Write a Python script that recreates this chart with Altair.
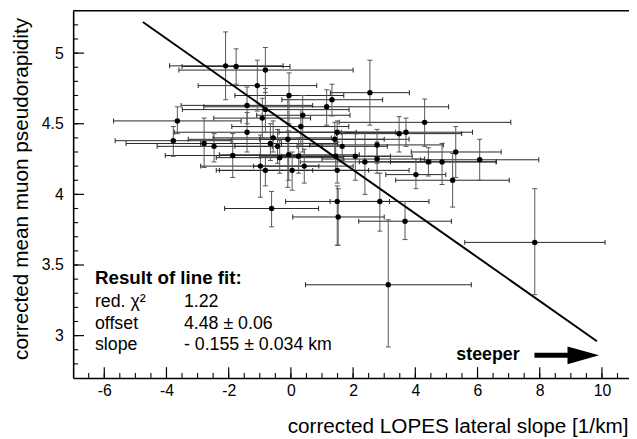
import altair as alt
import pandas as pd

# ---------------- data ----------------
pt_x = [-2.10, -1.76, -0.82, -1.08, -0.06, 1.32, 1.15, -1.41, -0.82, -0.92,
        0.38, -3.65, 0.32, -1.41, -3.78, -2.79, -2.47, -0.57, -0.10, -0.66,
        -0.43, 1.49, 1.41, 1.65, -1.87, -0.36, -0.07, 0.25, -0.98, -0.82,
        0.04, 0.43, 1.49, 1.44, 2.07, 2.54, 4.30, 3.48, 3.70, 2.77,
        2.38, 2.77, 4.42, 4.86, 5.30, 6.07, 5.20, 4.02, -0.62, 1.49,
        2.86, 1.52, 3.67, 3.13, 7.84]
pt_y = [4.91, 4.905, 4.88, 4.77, 4.70, 4.67, 4.62, 4.63, 4.60, 4.54,
        4.56, 4.52, 4.48, 4.44, 4.38, 4.36, 4.34, 4.40, 4.39, 4.36,
        4.34, 4.44, 4.39, 4.34, 4.275, 4.26, 4.28, 4.27, 4.20, 4.17,
        4.17, 4.20, 4.17, 4.27, 4.27, 4.72, 4.51, 4.43, 4.44, 4.35,
        4.23, 4.25, 4.23, 4.23, 4.30, 4.245, 4.10, 4.14, 3.90, 3.95,
        3.95, 3.84, 3.81, 3.36, 3.66]
pt_xlo = [-3.90, -3.50, -3.60, -2.98, -1.80, -0.29, -2.80, -3.53, -3.49, -2.48,
          -1.10, -5.70, -1.90, -3.75, -5.65, -5.30, -4.30, -2.50, -3.30, -2.90,
          -1.80, -0.38, -1.00, 0.20, -4.04, -2.40, -2.30, -1.00, -2.90, -2.30,
          -2.40, -1.20, -0.80, -0.30, 0.20, 1.27, 1.55, 1.47, 1.62, 0.60,
          0.30, 1.00, 2.20, 3.20, 3.87, 4.16, 3.37, 3.05, -2.13, -0.17,
          1.26, 0.06, 2.18, 0.47, 5.59]
pt_xhi = [-0.25, -0.03, 2.00, 0.83, 1.70, 2.95, 5.07, 0.70, 1.87, 0.63,
          1.90, -1.60, 1.86, 2.10, -1.92, -0.30, -0.60, 1.30, 3.00, 1.50,
          1.00, 3.37, 3.80, 3.10, 0.30, 1.70, 2.20, 1.50, 0.90, 0.70,
          2.50, 2.00, 3.80, 3.20, 3.90, 3.81, 7.07, 5.49, 5.84, 4.90,
          4.50, 4.30, 6.60, 6.60, 6.76, 7.97, 7.02, 4.98, 0.89, 3.17,
          4.44, 3.00, 5.16, 5.80, 10.10]
pt_ylo = [4.67, 4.78, 4.72, 4.59, 4.50, 4.555, 4.49, 4.50, 4.44, 4.40,
          4.30, 4.43, 4.35, 4.30, 4.27, 4.19, 4.23, 4.30, 4.05, 4.24,
          4.22, 4.37, 4.27, 4.24, 4.12, 4.15, 4.10, 4.15, 3.98, 4.06,
          4.03, 4.08, 4.08, 4.17, 4.10, 4.49, 4.34, 4.30, 4.34, 4.22,
          4.00, 4.15, 4.13, 4.07, 4.12, 4.10, 3.91, 4.04, 3.77, 3.64,
          3.74, 3.64, 3.68, 2.92, 3.29]
pt_yhi = [5.15, 5.03, 5.04, 4.95, 4.86, 4.78, 4.74, 4.76, 4.75, 4.68,
          4.70, 4.62, 4.60, 4.58, 4.48, 4.54, 4.43, 4.52, 4.70, 4.50,
          4.46, 4.52, 4.51, 4.44, 4.43, 4.38, 4.45, 4.40, 4.42, 4.27,
          4.30, 4.32, 4.26, 4.37, 4.43, 4.95, 4.675, 4.55, 4.54, 4.46,
          4.44, 4.37, 4.33, 4.36, 4.48, 4.39, 4.29, 4.25, 4.02, 4.06,
          4.15, 4.04, 3.95, 3.82, 4.04]

fit_x = [-4.76, 9.84]
fit_y = [5.22, 2.96]

fit_labels = ["red. χ²", "offset", "slope"]
fit_values = ["1.22", "4.48 ± 0.06", "- 0.155 ± 0.034 km"]
fit_title = "Result of line fit:"
arrow_text = "steeper"

x_major = [-6, -4, -2, 0, 2, 4, 6, 8, 10]
x_minor = [v / 2 for v in range(-13, 22)]
y_major = [3, 3.5, 4, 4.5, 5]
y_minor = [round(2.8 + 0.1 * i, 1) for i in range(25)]

# ---------------- layout ----------------
X_DOMAIN = [-7, 10.87]
Y_DOMAIN = [2.7, 5.3]
W, H = 563, 372
FONT = "Liberation Sans"

pts = pd.DataFrame({"x": pt_x, "y": pt_y, "xlo": pt_xlo, "xhi": pt_xhi,
                    "ylo": pt_ylo, "yhi": pt_yhi})
fit = pd.DataFrame({"x": fit_x, "y": fit_y})

xs = alt.Scale(domain=X_DOMAIN, nice=False, zero=False)
ys = alt.Scale(domain=Y_DOMAIN, nice=False, zero=False)

x_axis = alt.Axis(
    orient="bottom", grid=False, values=x_major, ticks=False, tickSize=0,
    labelExpr="'' + datum.value", labelFont=FONT, labelFontSize=16,
    labelColor="black", labelPadding=5, domainColor="black", domainWidth=1.6,
    title="corrected LOPES lateral slope [1/km]", titleFont=FONT,
    titleFontSize=21, titleFontWeight="normal", titleColor="black",
    titleAlign="right", titleAnchor="end", titleX=W - 1, titleY=55,
    titleBaseline="alphabetic")
y_axis = alt.Axis(
    orient="left", grid=False, values=y_major, ticks=False, tickSize=0,
    labelExpr="'' + datum.value", labelFont=FONT, labelFontSize=16,
    labelColor="black", labelPadding=10, domainColor="black", domainWidth=1.6,
    title="corrected mean muon pseudorapidity", titleFont=FONT,
    titleFontSize=21, titleFontWeight="normal", titleColor="black",
    titleAngle=270, titleAlign="center", titleBaseline="middle",
    titleX=-52, titleY=180)

BAR_X = "#262626"
BAR_Y = "#555555"


def X(f):
    return alt.X(f, scale=xs, axis=None)


def Y(f):
    return alt.Y(f, scale=ys, axis=None)


xbars = alt.Chart(pts).mark_rule(color=BAR_X, strokeWidth=1).encode(
    x=alt.X("xlo:Q", scale=xs, axis=x_axis), x2="xhi:Q",
    y=alt.Y("y:Q", scale=ys, axis=y_axis))
ybars = alt.Chart(pts).mark_rule(color=BAR_Y, strokeWidth=1).encode(
    x=X("x:Q"), y=Y("ylo:Q"), y2="yhi:Q")
xcaps = alt.Chart(pts).transform_fold(["xlo", "xhi"], as_=["end", "xe"]).mark_tick(
    orient="vertical", size=5, thickness=1, color=BAR_X, opacity=1).encode(
    x=X("xe:Q"), y=Y("y:Q"))
ycaps = alt.Chart(pts).transform_fold(["ylo", "yhi"], as_=["end", "ye"]).mark_tick(
    orient="horizontal", size=5, thickness=1, color=BAR_Y, opacity=1).encode(
    x=X("x:Q"), y=Y("ye:Q"))
dots = alt.Chart(pts).mark_circle(size=30, color="black", opacity=1).encode(
    x=X("x:Q"), y=Y("y:Q"))
fitline = alt.Chart(fit).mark_line(color="black", strokeWidth=2).encode(
    x=X("x:Q"), y=Y("y:Q"))

# inward axis ticks (drawn from the tick value lists through the scales)
xt_major = alt.Chart(pd.DataFrame({"v": x_major})).mark_rule(
    color="black", strokeWidth=1.2).encode(
    x=X("v:Q"), y=alt.value(H), y2=alt.value(H - 11))
xt_minor = alt.Chart(pd.DataFrame({"v": x_minor})).mark_rule(
    color="black", strokeWidth=1.1).encode(
    x=X("v:Q"), y=alt.value(H), y2=alt.value(H - 5))
yt_major = alt.Chart(pd.DataFrame({"v": y_major})).mark_rule(
    color="black", strokeWidth=1.2).encode(
    y=Y("v:Q"), x=alt.value(0), x2=alt.value(11))
yt_minor = alt.Chart(pd.DataFrame({"v": y_minor})).mark_rule(
    color="black", strokeWidth=1.1).encode(
    y=Y("v:Q"), x=alt.value(0), x2=alt.value(5))
top_frame = alt.Chart(pd.DataFrame({"v": [0]})).mark_rule(
    color="black", strokeWidth=1.6).encode(
    y=alt.value(0), x=alt.value(0), x2=alt.value(W))

# annotation (positions in data units)
ROW_Y = [3.20, 3.046, 2.896]
ann_left = pd.DataFrame({"t": fit_labels, "x": [-6.30] * 3, "y": ROW_Y})
ann_right = pd.DataFrame({"t": fit_values, "x": [-3.44] * 3, "y": ROW_Y})
ann_head = pd.DataFrame({"t": [fit_title], "x": [-6.30], "y": [3.364]})
ann_steep = pd.DataFrame({"t": [arrow_text], "x": [5.32], "y": [2.826]})
shaft = pd.DataFrame({"x": [7.83], "x2": [9.2], "y": [2.861]})
head = pd.DataFrame({"x": [9.40], "y": [2.861]})


def txt(df, bold=False, size=18):
    return alt.Chart(df).mark_text(
        align="left", baseline="alphabetic", font=FONT, fontSize=size,
        fontWeight="bold" if bold else "normal", color="black").encode(
        x=X("x:Q"), y=Y("y:Q"), text="t:N")


shaft_l = alt.Chart(shaft).mark_rule(color="black", strokeWidth=5).encode(
    x=X("x:Q"), x2="x2:Q", y=Y("y:Q"))
head_l = alt.Chart(head).mark_point(
    shape="M-1,-0.5625L1,0L-1,0.5625Z", size=1024, filled=True,
    color="black", opacity=1, strokeWidth=0).encode(x=X("x:Q"), y=Y("y:Q"))

chart = alt.layer(
    xbars, ybars, xcaps, ycaps, dots, fitline,
    xt_major, xt_minor, yt_major, yt_minor, top_frame,
    txt(ann_head, bold=True, size=19), txt(ann_left), txt(ann_right),
    txt(ann_steep, bold=True), shaft_l, head_l
).resolve_axis(x="independent", y="independent").properties(
    width=W, height=H,
    autosize=alt.AutoSizeParams(type="none"),
    padding={"left": 66, "top": 0, "right": 0, "bottom": 59},
    background="white"
).configure_view(stroke=None)

chart.save("out.html", embed_options={"renderer": "svg", "actions": False})
